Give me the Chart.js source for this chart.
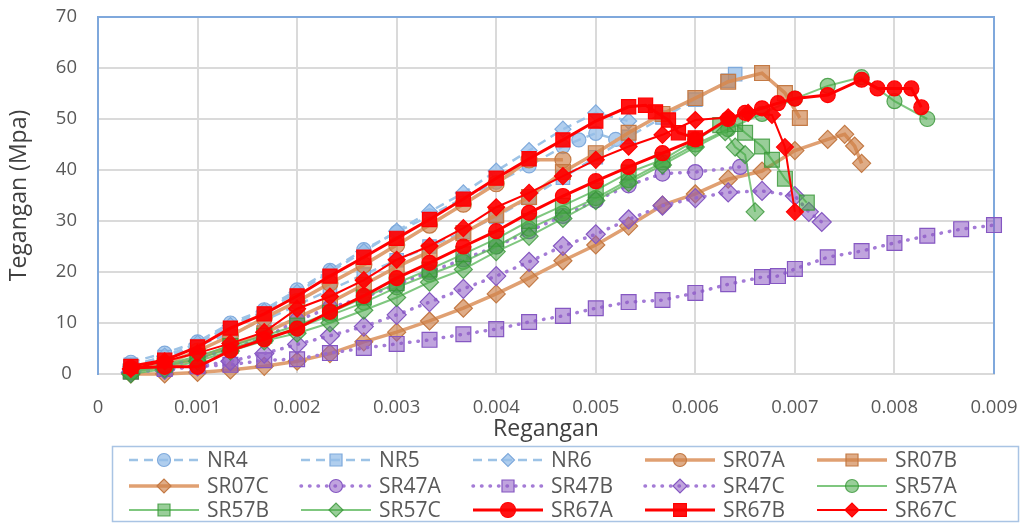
<!DOCTYPE html>
<html>
<head>
<meta charset="utf-8">
<script src="https://cdn.jsdelivr.net/npm/chart.js@4/dist/chart.umd.min.js"></script>
<style>
html,body{margin:0;padding:0;background:#fff;}
canvas{display:block;}
</style>
</head>
<body>
<canvas id="c" width="1031" height="523"></canvas>
<script>
// ---------------- DATA (strain, stress in MPa) ----------------
const xTickValues = [0,0.001,0.002,0.003,0.004,0.005,0.006,0.007,0.008,0.009];
const yTickValues = [0,10,20,30,40,50,60,70];
const seriesNames = ['NR4','NR5','NR6','SR07A','SR07B','SR07C','SR47A','SR47B','SR47C','SR57A','SR57B','SR57C','SR67A','SR67B','SR67C'];

const NR4_x = [0.00033,0.00067,0.001,0.00133,0.00167,0.002,0.00233,0.00267,0.003,0.00333,0.00367,0.004,0.00433,0.00467,0.00483,0.005,0.0052];
const NR4_y = [2.3,4.1,6.3,10,12.6,16.5,20.3,24.4,27.8,31,34.5,37.6,40.8,44.6,45.9,47.2,46.0];

const NR5_x = [0.00033,0.00067,0.001,0.00133,0.00167,0.002,0.00233,0.00267,0.003,0.00333,0.00367,0.004,0.00433,0.00467,0.005,0.00533,0.00567,0.006,0.00633,0.0064];
const NR5_y = [1.8,3.3,5.5,8,10.5,13.5,16.5,19.5,22.3,25,27.8,30.8,34.5,38.5,42.5,46.5,50.3,53.8,57.5,58.8];

const NR6_x = [0.00033,0.00067,0.001,0.00133,0.00167,0.002,0.00233,0.00267,0.003,0.00333,0.00367,0.004,0.00433,0.00467,0.005,0.00533];
const NR6_y = [1.5,3.5,6,9.5,12.3,16,20,24,28,31.8,35.5,39.8,43.8,48,51.2,49.6];

const SR07A_x = [0.00033,0.00067,0.001,0.00133,0.00167,0.002,0.00233,0.00267,0.003,0.00333,0.00367,0.004,0.00433,0.00467];
const SR07A_y = [0.5,2,4.5,7.5,11,14.2,17.8,21.4,25.3,29.2,33.3,37.3,42,42];

const SR07B_x = [0.00033,0.00067,0.001,0.00133,0.00167,0.002,0.00233,0.00267,0.003,0.00333,0.00367,0.004,0.00433,0.00467,0.005,0.00533,0.00567,0.006,0.00633,0.00667,0.0069,0.00705];
const SR07B_y = [0.5,1.5,3,5.5,8,11,14,17.5,21,24,27.6,31.2,34.7,39.6,43.3,47.3,51,54.1,57.3,59,55.1,50.2];

const SR07C_x = [0.00033,0.00067,0.001,0.00133,0.00167,0.002,0.00233,0.00267,0.003,0.00333,0.00367,0.004,0.00433,0.00467,0.005,0.00533,0.00567,0.006,0.00633,0.00667,0.007,0.00733,0.0075,0.0076,0.00767];
const SR07C_y = [0,0,0.3,0.8,1.5,2.5,4,6.3,8.2,10.4,12.9,15.7,18.8,22.2,25.3,29,33.1,35.3,38.2,39.8,43.8,46,47,44.7,41.3];

const SR47A_x = [0.00033,0.00067,0.001,0.00133,0.00167,0.002,0.00233,0.00267,0.003,0.00333,0.00367,0.004,0.00433,0.00467,0.005,0.00533,0.00567,0.006,0.00645];
const SR47A_y = [0.5,1.5,3,5,7,10.5,13,15,17.5,20,22.5,25,28,31,34,37,39.3,39.6,40.6];

const SR47B_x = [0.00033,0.00067,0.001,0.00133,0.00167,0.002,0.00233,0.00267,0.003,0.00333,0.00367,0.004,0.00433,0.00467,0.005,0.00533,0.00567,0.006,0.00633,0.00667,0.00683,0.007,0.00733,0.00767,0.008,0.00833,0.00867,0.009];
const SR47B_y = [0.5,1,1.5,1.8,2.7,2.9,4.1,5.1,5.9,6.7,7.8,8.8,10.2,11.4,12.9,14.1,14.5,15.9,17.6,19,19.2,20.6,22.9,24.1,25.7,27.1,28.4,29.2];

const SR47C_x = [0.00033,0.00067,0.001,0.00133,0.00167,0.002,0.00233,0.00267,0.003,0.00333,0.00367,0.004,0.00433,0.00467,0.005,0.00533,0.00567,0.006,0.00633,0.00667,0.007,0.00714,0.00727];
const SR47C_y = [0.3,0.8,1.5,2.5,4,5.8,7.5,9.3,11.6,14.1,16.7,19.2,22,25.1,27.4,30.3,33,34.5,35.6,35.9,34.9,31.8,29.8];

const SR57A_x = [0.00033,0.00067,0.001,0.00133,0.00167,0.002,0.00233,0.00267,0.003,0.00333,0.00367,0.004,0.00433,0.00467,0.005,0.00533,0.00567,0.006,0.00633,0.00667,0.007,0.00733,0.00767,0.008,0.00833];
const SR57A_y = [0.3,1.5,3,5,7,9,11.5,14,17,19.5,22,25,28.5,31.5,34.5,38,41.5,45,48,51,54,56.5,58.2,53.5,50];

const SR57B_x = [0.00033,0.00067,0.001,0.00133,0.00167,0.002,0.00233,0.00267,0.003,0.00333,0.00367,0.004,0.00433,0.00467,0.005,0.00533,0.00567,0.006,0.00625,0.0064,0.0065,0.00667,0.00677,0.0069,0.00712];
const SR57B_y = [0.5,1.8,3.5,5.5,7.5,9.5,12,15,17.8,20.5,23.5,26.5,30,33,36,39.5,42,45.8,48.8,49,47.3,44.6,42,38.3,33.6];

const SR57C_x = [0.00033,0.00067,0.001,0.00133,0.00167,0.002,0.00233,0.00267,0.003,0.00333,0.00367,0.004,0.00433,0.00467,0.005,0.00533,0.00567,0.006,0.0063,0.0064,0.0065,0.0066];
const SR57C_y = [0,1,2.5,4.5,6.5,8,10,12.5,15,18,20.5,24,27,30.5,34,37.5,41,44.5,47.5,44.5,43,31.8];

const SR67A_x = [0.00033,0.00067,0.001,0.00133,0.00167,0.002,0.00233,0.00267,0.003,0.00333,0.00367,0.004,0.00433,0.00467,0.005,0.00533,0.00567,0.006,0.00633,0.0065,0.00667,0.00683,0.007,0.00733,0.00767,0.00783,0.008,0.00817,0.00827];
const SR67A_y = [1.2,1.4,1.4,4.6,6.8,8.9,12.2,15.3,18.8,21.8,25,28,31.6,34.9,37.8,40.6,43.3,46,50,51.2,52.1,53.1,54,54.7,57.7,56,56,56,52.3];

const SR67B_x = [0.00033,0.00067,0.001,0.00133,0.00167,0.002,0.00233,0.00267,0.003,0.00333,0.00367,0.004,0.00433,0.00467,0.005,0.00533,0.0055,0.0056,0.00573,0.00583,0.006];
const SR67B_y = [1.5,2.7,5.3,9,11.8,15.3,19.2,22.9,26.6,30.3,34.3,38.4,42.2,45.9,49.6,52.4,52.7,51.4,49.8,47.3,46.3];

const SR67C_x = [0.00033,0.00067,0.001,0.00133,0.00167,0.002,0.00233,0.00267,0.003,0.00333,0.00367,0.004,0.00433,0.00467,0.005,0.00533,0.00567,0.006,0.00633,0.00653,0.00677,0.0069,0.007];
const SR67C_y = [1,2.5,4.1,6,8.2,12.8,15.2,18.4,22.4,25.1,28.6,32.7,35.5,38.8,42,44.6,46.9,49.8,50.3,51.2,50.8,44.5,31.8];

// ---------------- STYLES ----------------
const NRline = '#9DC3E6', NRfill = 'rgba(150,190,232,0.75)', NRedge = '#7FAADC';
const S07line = '#E0A072', S07fill = 'rgba(206,128,70,0.65)', S07edge = '#C47A45';
const S47line = '#A47BD6', S47fill = 'rgba(140,90,195,0.55)', S47edge = '#8557C2';
const S57line = 'rgba(95,185,95,0.8)', S57fill = 'rgba(70,165,70,0.55)', S57edge = 'rgba(55,150,55,0.8)';
const S67line = '#FF0000', S67fill = 'rgba(255,0,0,0.92)', S67edge = '#FF0000';

const styles = {
  NR4:  {line:NRline, fill:NRfill, edge:NRedge, w:2.5, dash:[9,6], ps:'circle', r:7, lr:6.5},
  NR5:  {line:NRline, fill:NRfill, edge:NRedge, w:2.5, dash:[9,6], ps:'rect', r:9.5, lr:8.5},
  NR6:  {line:NRline, fill:NRfill, edge:NRedge, w:2.5, dash:[9,6], ps:'rectRot', r:8, lr:6.5},
  SR07A:{line:S07line, fill:S07fill, edge:S07edge, w:3.5, dash:[], ps:'circle', r:8, lr:6.5},
  SR07B:{line:S07line, fill:S07fill, edge:S07edge, w:3.5, dash:[], ps:'rect', r:10.5, lr:8.5},
  SR07C:{line:S07line, fill:S07fill, edge:S07edge, w:3.5, dash:[], ps:'rectRot', r:9, lr:7},
  SR47A:{line:S47line, fill:S47fill, edge:S47edge, w:3.5, dash:[0.5,8], ps:'circle', r:7.5, lr:6.5, cap:'round'},
  SR47B:{line:S47line, fill:S47fill, edge:S47edge, w:3.5, dash:[0.5,8], ps:'rect', r:10.5, lr:8.5, cap:'round'},
  SR47C:{line:S47line, fill:S47fill, edge:S47edge, w:3.5, dash:[0.5,8], ps:'rectRot', r:9.5, lr:7, cap:'round'},
  SR57A:{line:S57line, fill:S57fill, edge:S57edge, w:2, dash:[], ps:'circle', r:7.5, lr:6.5},
  SR57B:{line:S57line, fill:S57fill, edge:S57edge, w:2, dash:[], ps:'rect', r:10.5, lr:8.5},
  SR57C:{line:S57line, fill:S57fill, edge:S57edge, w:2, dash:[], ps:'rectRot', r:9, lr:7},
  SR67A:{line:S67line, fill:S67fill, edge:S67edge, w:3, dash:[], ps:'circle', r:7.5, lr:7.5},
  SR67B:{line:S67line, fill:S67fill, edge:S67edge, w:3, dash:[], ps:'rect', r:10, lr:9},
  SR67C:{line:S67line, fill:S67fill, edge:S67edge, w:2, dash:[], ps:'rectRot', r:8.5, lr:7}
};

const seriesX = {NR4:NR4_x,NR5:NR5_x,NR6:NR6_x,SR07A:SR07A_x,SR07B:SR07B_x,SR07C:SR07C_x,SR47A:SR47A_x,SR47B:SR47B_x,SR47C:SR47C_x,SR57A:SR57A_x,SR57B:SR57B_x,SR57C:SR57C_x,SR67A:SR67A_x,SR67B:SR67B_x,SR67C:SR67C_x};
const seriesY = {NR4:NR4_y,NR5:NR5_y,NR6:NR6_y,SR07A:SR07A_y,SR07B:SR07B_y,SR07C:SR07C_y,SR47A:SR47A_y,SR47B:SR47B_y,SR47C:SR47C_y,SR57A:SR57A_y,SR57B:SR57B_y,SR57C:SR57C_y,SR67A:SR67A_y,SR67B:SR67B_y,SR67C:SR67C_y};

const FONT = "'Open Sans', 'Liberation Sans', sans-serif";
Chart.defaults.font.family = FONT;

const datasets = seriesNames.map((name, i) => {
  const s = styles[name];
  return {
    label: name,
    data: seriesX[name].map((x, k) => ({x: x, y: seriesY[name][k]})),
    borderColor: s.line,
    borderWidth: s.w,
    borderDash: s.dash,
    borderCapStyle: s.cap || 'butt',
    pointStyle: s.ps,
    pointRadius: s.r,
    pointBackgroundColor: s.fill,
    pointBorderColor: s.edge,
    pointBorderWidth: 1.2,
    tension: 0,
    fill: false,
    clip: false,
    order: seriesNames.length - i
  };
});

// target plot area (pixels)
const TARGET = {left: 98, right: 994, top: 17, bottom: 374};

// ---------------- PLUGINS ----------------
function drawMarker(ctx, style, r, x, y) {
  ctx.beginPath();
  if (style === 'circle') {
    ctx.arc(x, y, r, 0, Math.PI * 2);
  } else if (style === 'rect') {
    const h = r * Math.SQRT1_2;
    ctx.rect(x - h, y - h, 2 * h, 2 * h);
  } else {
    ctx.moveTo(x - r, y); ctx.lineTo(x, y - r); ctx.lineTo(x + r, y); ctx.lineTo(x, y + r); ctx.closePath();
  }
  ctx.fill();
  ctx.stroke();
}

const frameAndLegend = {
  id: 'frameAndLegend',
  beforeDatasetsDraw(chart) {
    const {ctx, chartArea: a} = chart;
    ctx.save();
    ctx.strokeStyle = '#7FA8DC';
    ctx.lineWidth = 2;
    ctx.beginPath();
    ctx.moveTo(a.left, a.top); ctx.lineTo(a.right, a.top); ctx.lineTo(a.right, a.bottom);
    ctx.stroke();
    ctx.restore();
  },
  afterDraw(chart) {
    const ctx = chart.ctx;
    ctx.save();
    ctx.strokeStyle = '#A9C4E4';
    ctx.lineWidth = 1.5;
    ctx.strokeRect(112.5, 446.5, 906, 75);
    const colX = [129, 301, 473, 645, 817];
    const rowY = [460, 486, 510];
    ctx.font = '21px ' + FONT;
    ctx.textBaseline = 'middle';
    seriesNames.forEach((name, i) => {
      const s = styles[name];
      const x0 = colX[i % 5], y = rowY[Math.floor(i / 5)];
      ctx.save();
      ctx.strokeStyle = s.line;
      ctx.lineWidth = s.w;
      ctx.setLineDash(s.dash);
      ctx.lineCap = s.cap || 'butt';
      ctx.beginPath(); ctx.moveTo(x0, y); ctx.lineTo(x0 + 70, y); ctx.stroke();
      ctx.setLineDash([]);
      ctx.lineCap = 'butt';
      ctx.fillStyle = s.fill;
      ctx.strokeStyle = s.edge;
      ctx.lineWidth = 1.2;
      drawMarker(ctx, s.ps, s.lr, x0 + 35, y);
      ctx.restore();
      ctx.fillStyle = '#595959';
      ctx.fillText(name, x0 + 78, y + 1);
    });
    ctx.restore();
  }
};

// ---------------- CHART ----------------
const chart = new Chart(document.getElementById('c'), {
  type: 'line',
  data: { datasets: datasets },
  plugins: [frameAndLegend],
  options: {
    responsive: false,
    animation: false,
    layout: { padding: { left: 0, right: 37, top: 17, bottom: 79 } },
    plugins: { legend: { display: false }, tooltip: { enabled: false } },
    scales: {
      x: {
        type: 'linear',
        min: xTickValues[0],
        max: xTickValues[xTickValues.length - 1],
        afterBuildTicks(scale) { scale.ticks = xTickValues.map(v => ({value: v})); },
        ticks: {
          color: '#595959',
          font: { size: 18.5 },
          padding: 23,
          maxRotation: 0,
          autoSkip: false,
          callback: v => (v === 0 ? '0' : (Math.round(v * 1000) / 1000).toFixed(3))
        },
        grid: { color: '#DADADA', lineWidth: 2, drawTicks: false },
        border: { color: '#D9D9D9', width: 2 },
        title: { display: true, text: 'Regangan', color: '#404040', font: { size: 23 }, padding: { top: 0, bottom: 1 } },
        afterFit(scale) { scale.height = 70; scale.paddingLeft = 0; scale.paddingRight = 0; }
      },
      y: {
        min: yTickValues[0],
        max: yTickValues[yTickValues.length - 1],
        afterBuildTicks(scale) { scale.ticks = yTickValues.map(v => ({value: v})); },
        ticks: { color: '#595959', font: { size: 18.5 }, padding: 21, crossAlign: 'center' },
        grid: { color: '#DADADA', lineWidth: 2, drawTicks: false },
        border: { color: '#7FA8DC', width: 2 },
        title: { display: true, text: 'Tegangan (Mpa)', color: '#404040', font: { size: 23 }, padding: { top: 6, bottom: 0 } },
        afterFit(scale) { scale.width = 98; scale.paddingTop = 0; scale.paddingBottom = 0; }
      }
    }
  }
});

// nudge layout padding so the plot area lands on the target rectangle
for (let pass = 0; pass < 3; pass++) {
  const a = chart.chartArea, p = chart.options.layout.padding;
  const dt = a.top - TARGET.top, db = TARGET.bottom - a.bottom;
  const dl = a.left - TARGET.left, dr = TARGET.right - a.right;
  if (Math.abs(dt) < 0.5 && Math.abs(db) < 0.5 && Math.abs(dl) < 0.5 && Math.abs(dr) < 0.5) break;
  p.top = Math.max(0, p.top - dt);
  p.bottom = Math.max(0, p.bottom - db);
  p.left = Math.max(0, p.left - dl);
  p.right = Math.max(0, p.right - dr);
  chart.update();
}
</script>
</body>
</html>
